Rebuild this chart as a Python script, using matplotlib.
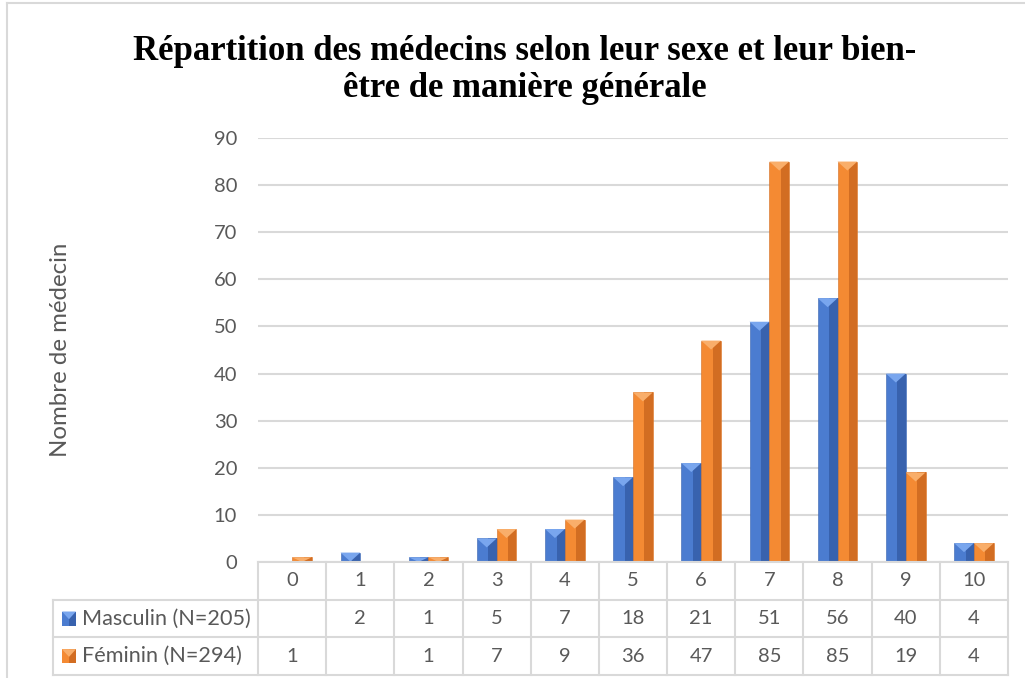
import matplotlib
matplotlib.use('Agg')
import matplotlib.pyplot as plt
from matplotlib.patches import Rectangle, Polygon
from matplotlib.lines import Line2D

# données
categories = [0, 1, 2, 3, 4, 5, 6, 7, 8, 9, 10]
masculin = [None, 2, 1, 5, 7, 18, 21, 51, 56, 40, 4]
feminin = [1, None, 1, 7, 9, 36, 47, 85, 85, 19, 4]
series_names = ['Masculin (N=205)', 'Féminin (N=294)']

TITLE = 'Répartition des médecins selon leur sexe et leur bien-\nêtre de manière générale'
YLABEL = 'Nombre de médecin'

# couleurs (base, côté droit sombre, triangle clair)
COLORS = [
    ('#4B7CD0', '#3862AE', '#79A6EE'),
    ('#F48A33', '#D26D22', '#F9AE6A'),
]
GRID = '#D9D9D9'
TXT = '#595959'
FONT = 'Lato'

W, H = 1025, 678
fig = plt.figure(figsize=(W / 100, H / 100), dpi=100)

# cadre du graphique
fig.add_artist(Line2D([7 / W, 7 / W], [0, 1 - 3 / H], color=GRID, lw=1.5))
fig.add_artist(Line2D([7 / W, 1], [1 - 3 / H, 1 - 3 / H], color=GRID, lw=1.5))

# ===== zone de tracé =====
x0, x1, ytop, ybot = 258, 1008, 138, 562
ax = fig.add_axes([x0 / W, 1 - ybot / H, (x1 - x0) / W, (ybot - ytop) / H])
ax.set_xlim(-0.5, 10.5)
ax.set_ylim(0, 90)
ax.set_yticks(range(0, 91, 10))
ax.set_xticks([])
for s in ax.spines.values():
    s.set_visible(False)
ax.yaxis.grid(True, color=GRID, lw=1.5)
ax.set_axisbelow(True)
ax.tick_params(axis='y', length=0, pad=15, labelsize=14.5, labelcolor=TXT)
for lab in ax.get_yticklabels():
    lab.set_fontfamily(FONT)
ax.set_ylabel(YLABEL, fontsize=17.3, color=TXT, family=FONT)
ax.yaxis.set_label_coords((71 - x0) / (x1 - x0), 0.5)

unit_per_px = 90 / (ybot - ytop)
bw = 0.29
for k, vals in enumerate([masculin, feminin]):
    base, dark, light = COLORS[k]
    hs = [v if v is not None else 0 for v in vals]
    offs = -bw / 2 if k == 0 else bw / 2
    bars = ax.bar([c + offs for c in categories], hs, width=bw, color=base,
                  edgecolor=dark, linewidth=0.4, zorder=2)
    for b in bars:
        h = b.get_height()
        if h <= 0:
            continue
        bx, w = b.get_x(), b.get_width()
        ax.add_patch(Rectangle((bx + w * 0.58, 0), w * 0.42, h, color=dark, lw=0, zorder=3))
        th = min(9 * unit_per_px, h)
        ax.add_patch(Polygon([(bx, h), (bx + w, h), (bx + w / 2, h - th)],
                             closed=True, color=light, lw=0, zorder=4))

# ===== tableau de données =====
row_px = (675 - ybot) / 3
col_px = (x1 - x0) / 11
xmin = -0.5 - (x0 - 53) / col_px
tab = fig.add_axes([53 / W, 1 - 675 / H, (x1 - 53) / W, (675 - ybot) / H])
tab.set_xlim(xmin, 10.5)
tab.set_ylim(3, 0)
tab.axis('off')

lkw = dict(color=GRID, lw=1.5, clip_on=False)
tab.plot([-0.5, 10.5], [0, 0], **lkw)
for r in (1, 2, 3):
    tab.plot([xmin, 10.5], [r, r], **lkw)
for k in range(12):
    tab.plot([-0.5 + k, -0.5 + k], [0, 3], **lkw)
tab.plot([xmin, xmin], [1, 3], **lkw)

for i, c in enumerate(categories):
    tab.text(i, 0.5, str(c), ha='center', va='center', fontsize=14.5, color=TXT, family=FONT)
    for r, vals in enumerate([masculin, feminin], start=1):
        if vals[i] is not None:
            tab.text(i, r + 0.5, str(vals[i]), ha='center', va='center',
                     fontsize=14.5, color=TXT, family=FONT)

sq_w, sq_h = 14 / col_px, 14 / row_px
for r, name in enumerate(series_names, start=1):
    base, dark, light = COLORS[r - 1]
    kx = xmin + 9 / col_px
    ky = r + 0.5 - sq_h / 2
    tab.add_patch(Rectangle((kx, ky), sq_w, sq_h, color=base, lw=0))
    tab.add_patch(Rectangle((kx + sq_w * 0.5, ky), sq_w * 0.5, sq_h, color=dark, lw=0))
    tab.add_patch(Polygon([(kx, ky), (kx + sq_w, ky), (kx + sq_w / 2, ky + sq_h * 0.55)],
                          closed=True, color=light, lw=0))
    tab.text(xmin + 29 / col_px, r + 0.5, name, ha='left', va='center',
             fontsize=15.6, color=TXT, family=FONT)

# ===== titre =====
fig.text(525 / W, 1 - 70 / H, TITLE, ha='center', va='center', fontsize=25,
         fontweight='bold', family='Liberation Serif', linespacing=1.18, color='black')

fig.savefig('out.png', dpi=100)
